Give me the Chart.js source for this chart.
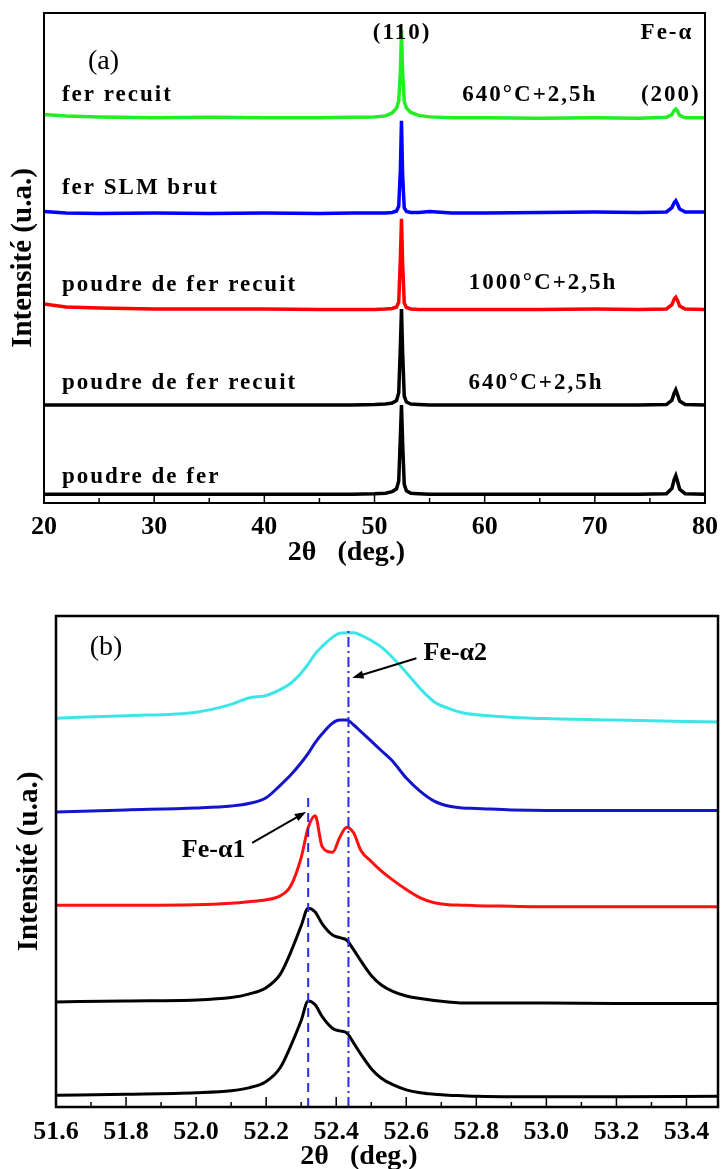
<!DOCTYPE html>
<html>
<head>
<meta charset="utf-8">
<script src="https://cdn.jsdelivr.net/npm/chart.js@4.4.1/dist/chart.umd.min.js"></script>
<style>
    html, body { margin: 0; padding: 0; background: #fff; }
    #wrapA { position: absolute; left: 0; top: 0; }
    #wrapB { position: absolute; left: 0; top: 578px; }
</style>
</head>
<body>
<div id="wrapA"><canvas id="chartA" width="721" height="578"></canvas></div>
<div id="wrapB"><canvas id="chartB" width="721" height="593"></canvas></div>
<script>
// ==========================================
// (a) DIFFRACTOGRAMMES 20-80°
// ==========================================
const xA = [20, 22, 25, 30, 35, 40, 45, 48, 50, 51, 51.6, 52.0, 52.2, 52.35, 52.45, 52.55, 52.7, 52.9, 53.3, 54, 55, 57, 60, 65, 70, 74, 76.5, 77.0, 77.2, 77.35, 77.5, 77.7, 78.2, 80];
const ferRecuit      = [79.3, 79.0, 78.8, 78.6, 78.7, 78.6, 78.6, 78.7, 78.8, 79.0, 79.6, 80.6, 82.0, 88.0, 96.5, 88.0, 82.0, 80.6, 79.7, 79.1, 78.8, 78.6, 78.6, 78.5, 78.6, 78.5, 78.7, 79.3, 80.1, 80.4, 80.0, 79.1, 78.6, 78.6];
const ferSlmBrut     = [59.5, 59.2, 59.1, 59.2, 59.1, 59.2, 59.1, 59.2, 59.2, 59.2, 59.3, 59.6, 60.6, 68.0, 78.0, 67.0, 60.2, 59.5, 59.3, 59.3, 59.5, 59.2, 59.2, 59.3, 59.4, 59.3, 59.4, 60.3, 61.3, 61.7, 61.0, 60.0, 59.4, 59.4];
const poudre1000     = [40.6, 40.0, 39.8, 39.6, 39.6, 39.6, 39.5, 39.5, 39.5, 39.6, 39.7, 40.0, 41.0, 50.0, 58.0, 49.0, 40.8, 39.9, 39.6, 39.5, 39.5, 39.5, 39.5, 39.5, 39.6, 39.5, 39.6, 40.5, 41.6, 42.0, 41.4, 40.2, 39.6, 39.5];
const poudre640      = [20.0, 20.0, 20.0, 20.0, 20.0, 20.0, 20.0, 20.0, 20.1, 20.2, 20.4, 20.9, 22.5, 32.0, 39.6, 31.0, 21.8, 20.6, 20.2, 20.1, 20.0, 20.0, 20.0, 20.0, 20.0, 20.0, 20.1, 21.0, 22.4, 23.1, 22.2, 20.8, 20.1, 20.0];
const poudreFer      = [1.8, 1.8, 1.8, 1.8, 1.8, 1.8, 1.8, 1.8, 1.9, 2.0, 2.3, 2.9, 4.5, 13.5, 20.0, 12.5, 3.8, 2.5, 2.0, 1.9, 1.8, 1.8, 1.8, 1.8, 1.8, 1.8, 1.9, 3.0, 4.8, 5.6, 4.5, 2.8, 1.9, 1.8];
const ticksA = [20, 30, 40, 50, 60, 70, 80];

// ==========================================
// (b) ZOOM SUR LE PIC (110)
// ==========================================
const xB = [51.6, 51.8, 52.0, 52.1, 52.15, 52.2, 52.24, 52.27, 52.3, 52.32, 52.34, 52.36, 52.39, 52.41, 52.43, 52.45, 52.47, 52.5, 52.53, 52.56, 52.6, 52.64, 52.68, 52.72, 52.76, 52.8, 52.9, 53.0, 53.2, 53.49];
const courbeCyan  = [79.2, 79.7, 80.4, 82.0, 83.3, 83.8, 85.0, 86.3, 88.4, 90.2, 92.3, 93.8, 95.7, 96.5, 96.6, 96.6, 96.1, 95.0, 93.6, 91.6, 88.5, 85.2, 82.5, 81.2, 80.3, 79.9, 79.4, 79.1, 78.8, 78.4];
const courbeBleue = [60.1, 60.5, 60.9, 61.3, 61.8, 63.0, 65.5, 67.6, 70.1, 72.0, 74.2, 76.0, 78.2, 78.8, 78.8, 77.8, 76.5, 74.5, 72.5, 70.5, 67.0, 64.3, 62.3, 61.3, 60.9, 60.8, 60.5, 60.4, 60.4, 60.4];
const courbeRouge = [41.1, 41.1, 41.2, 41.5, 41.8, 42.2, 43.0, 45.0, 50.8, 56.9, 59.3, 53.0, 51.9, 54.9, 57.0, 55.8, 52.3, 50.0, 48.0, 46.3, 44.3, 42.6, 41.6, 41.2, 41.1, 41.0, 40.9, 40.8, 40.8, 40.8];
const courbeNoire1 = [21.4, 21.6, 21.8, 22.3, 23.0, 24.3, 27.0, 31.5, 36.9, 40.5, 39.7, 37.3, 35.0, 34.5, 34.0, 32.0, 29.8, 26.8, 24.8, 23.6, 22.6, 22.1, 21.7, 21.4, 21.2, 21.2, 21.2, 21.2, 21.1, 21.1];
const courbeNoire2 = [2.4, 2.6, 2.9, 3.3, 3.9, 5.2, 8.0, 12.4, 17.6, 21.6, 20.8, 18.4, 16.0, 15.5, 15.1, 13.0, 10.8, 7.8, 5.8, 4.6, 3.5, 2.9, 2.6, 2.4, 2.3, 2.2, 2.1, 2.1, 2.1, 2.2];
const ticksB = [51.6, 51.8, 52.0, 52.2, 52.4, 52.6, 52.8, 53.0, 53.2, 53.4];
const feAlpha1 = 52.32;
const feAlpha2 = 52.435;

const SERIF = '"Liberation Serif", "Times New Roman", serif';
Chart.defaults.font.family = SERIF;
Chart.defaults.color = '#000';

function toPoints(xs, ys) {
    return xs.map((x, i) => ({ x: x, y: ys[i] }));
}

function lineDataset(xs, ys, color, width, smooth) {
    return {
        data: toPoints(xs, ys),
        borderColor: color,
        borderWidth: width,
        pointRadius: 0,
        fill: false,
        tension: smooth ? 0.4 : 0,
        cubicInterpolationMode: smooth ? 'monotone' : 'default'
    };
}

// cadre, graduations internes, textes et flèches
const framePlugin = {
    id: 'frame',
    afterDraw(chart, args, opts) {
        const { ctx, chartArea: a } = chart;
        const x = chart.scales.x;
        const y = chart.scales.y;
        ctx.save();

        ctx.strokeStyle = '#000';
        ctx.lineWidth = opts.boxWidth;
        ctx.strokeRect(a.left, a.top, a.right - a.left, a.bottom - a.top);

        ctx.lineWidth = 1.5;
        opts.majors.forEach((v, i) => {
            const px = x.getPixelForValue(v);
            ctx.beginPath();
            ctx.moveTo(px, a.bottom);
            ctx.lineTo(px, a.bottom - opts.majorLen);
            ctx.stroke();
            if (i < opts.majors.length - 1) {
                const pm = x.getPixelForValue((v + opts.majors[i + 1]) / 2);
                ctx.beginPath();
                ctx.moveTo(pm, a.bottom);
                ctx.lineTo(pm, a.bottom - opts.minorLen);
                ctx.stroke();
            }
        });

        ctx.fillStyle = '#000';
        ctx.textBaseline = 'middle';
        opts.notes.forEach(n => {
            ctx.font = n.font;
            ctx.textAlign = n.align || 'center';
            ctx.letterSpacing = n.spacing || '0px';
            ctx.fillText(n.text, x.getPixelForValue(n.x), y.getPixelForValue(n.y));
        });
        ctx.letterSpacing = '0px';

        (opts.arrows || []).forEach(ar => {
            const x0 = x.getPixelForValue(ar.from[0]), y0 = y.getPixelForValue(ar.from[1]);
            const x1 = x.getPixelForValue(ar.to[0]), y1 = y.getPixelForValue(ar.to[1]);
            const ang = Math.atan2(y1 - y0, x1 - x0);
            ctx.lineWidth = 2;
            ctx.beginPath();
            ctx.moveTo(x0, y0);
            ctx.lineTo(x1 - 8 * Math.cos(ang), y1 - 8 * Math.sin(ang));
            ctx.stroke();
            ctx.beginPath();
            ctx.moveTo(x1, y1);
            ctx.lineTo(x1 - 12 * Math.cos(ang - 0.35), y1 - 12 * Math.sin(ang - 0.35));
            ctx.lineTo(x1 - 12 * Math.cos(ang + 0.35), y1 - 12 * Math.sin(ang + 0.35));
            ctx.closePath();
            ctx.fill();
        });
        ctx.restore();
    }
};

// les espaces en fin de titre décalent le texte vers la gauche comme sur l'original
function axisOptions(ticks, xmin, xmax, decimals, pad, xHeight, xTitle, yTitlePad) {
    return {
        x: {
            type: 'linear',
            min: xmin,
            max: xmax,
            afterBuildTicks: scale => { scale.ticks = ticks.map(v => ({ value: v })); },
            afterFit: scale => {
                scale.height = xHeight;
                scale.paddingLeft = 0;
                scale.paddingRight = 0;
            },
            ticks: {
                autoSkip: false,
                maxRotation: 0,
                padding: pad,
                font: { size: 26, weight: 'bold', lineHeight: 1 },
                callback: v => Number(v).toFixed(decimals)
            },
            grid: { display: false, drawTicks: false },
            border: { display: false },
            title: {
                display: true,
                text: xTitle,
                font: { size: 28, weight: 'bold', lineHeight: 1 },
                padding: { top: 0, bottom: 0 }
            }
        },
        y: {
            min: 0,
            max: 100,
            ticks: { display: false },
            grid: { display: false, drawTicks: false },
            border: { display: false },
            title: {
                display: true,
                text: 'Intensité (u.a.)',
                font: { size: 29, weight: 'bold', lineHeight: 1 },
                padding: { top: 4, bottom: yTitlePad }
            }
        }
    };
}

const labelFont = 'bold 23px ' + SERIF;

new Chart(document.getElementById('chartA'), {
    type: 'line',
    data: {
        datasets: [
            lineDataset(xA, ferRecuit, '#22ee22', 3.5),
            lineDataset(xA, ferSlmBrut, '#0000ff', 3.5),
            lineDataset(xA, poudre1000, '#ff0000', 3.5),
            lineDataset(xA, poudre640, '#000000', 3.5),
            lineDataset(xA, poudreFer, '#000000', 3.5)
        ]
    },
    options: {
        responsive: false,
        animation: false,
        layout: { padding: { left: 5, right: 16, top: 13, bottom: 11 } },
        scales: axisOptions(ticksA, 20, 80, 0, 11, 64, '2θ   (deg.)        ', 6),
        plugins: {
            legend: { display: false },
            tooltip: { enabled: false },
            frame: {
                boxWidth: 2,
                majors: ticksA,
                majorLen: 8,
                minorLen: 5,
                notes: [
                    { text: '(a)', x: 25.4, y: 90.0, font: '28px ' + SERIF },
                    { text: '(110)', x: 52.5, y: 95.9, font: labelFont, spacing: '2px' },
                    { text: 'Fe-α', x: 76.55, y: 95.9, font: labelFont, spacing: '2px' },
                    { text: 'fer recuit', x: 21.63, y: 83.3, font: labelFont, align: 'left', spacing: '2px' },
                    { text: '640°C+2,5h', x: 64.1, y: 83.3, font: labelFont, spacing: '2px' },
                    { text: '(200)', x: 76.9, y: 83.3, font: labelFont, spacing: '2px' },
                    { text: 'fer SLM brut', x: 21.63, y: 64.3, font: labelFont, align: 'left', spacing: '2px' },
                    { text: 'poudre de fer recuit', x: 21.63, y: 44.5, font: labelFont, align: 'left', spacing: '2px' },
                    { text: '1000°C+2,5h', x: 65.3, y: 44.9, font: labelFont, spacing: '2px' },
                    { text: 'poudre de fer recuit', x: 21.63, y: 24.5, font: labelFont, align: 'left', spacing: '2px' },
                    { text: '640°C+2,5h', x: 64.66, y: 24.5, font: labelFont, spacing: '2px' },
                    { text: 'poudre de fer', x: 21.63, y: 5.3, font: labelFont, align: 'left', spacing: '2px' }
                ]
            }
        }
    },
    plugins: [framePlugin]
});

const refAlpha1 = lineDataset([feAlpha1, feAlpha1], [0, 63.5], '#2a2ae0', 2);
refAlpha1.borderDash = [9, 6];
const refAlpha2 = lineDataset([feAlpha2, feAlpha2], [0, 97.5], '#2a2ae0', 2);
refAlpha2.borderDash = [10, 4, 2, 4];

new Chart(document.getElementById('chartB'), {
    type: 'line',
    data: {
        datasets: [
            refAlpha1,
            refAlpha2,
            lineDataset(xB, courbeCyan, '#3de6e6', 3, true),
            lineDataset(xB, courbeBleue, '#1414cc', 3, true),
            lineDataset(xB, courbeRouge, '#ff1010', 3, true),
            lineDataset(xB, courbeNoire1, '#000000', 3, true),
            lineDataset(xB, courbeNoire2, '#000000', 3, true)
        ]
    },
    options: {
        responsive: false,
        animation: false,
        layout: { padding: { left: 11, right: 3, top: 38, bottom: 0 } },
        scales: axisOptions(ticksB, 51.6, 53.49, 1, 12, 64, '2θ   (deg.)        ', 12),
        plugins: {
            legend: { display: false },
            tooltip: { enabled: false },
            frame: {
                boxWidth: 2.5,
                majors: ticksB,
                majorLen: 10,
                minorLen: 5,
                notes: [
                    { text: '(b)', x: 51.743, y: 93.5, font: '28px ' + SERIF },
                    { text: 'Fe-α2', x: 52.74, y: 92.5, font: 'bold 26px ' + SERIF },
                    { text: 'Fe-α1', x: 52.05, y: 52.3, font: 'bold 26px ' + SERIF }
                ],
                arrows: [
                    { from: [52.629, 91.4], to: [52.446, 87.4] },
                    { from: [52.16, 53.8], to: [52.314, 60.1] }
                ]
            }
        }
    },
    plugins: [framePlugin]
});
</script>
</body>
</html>
